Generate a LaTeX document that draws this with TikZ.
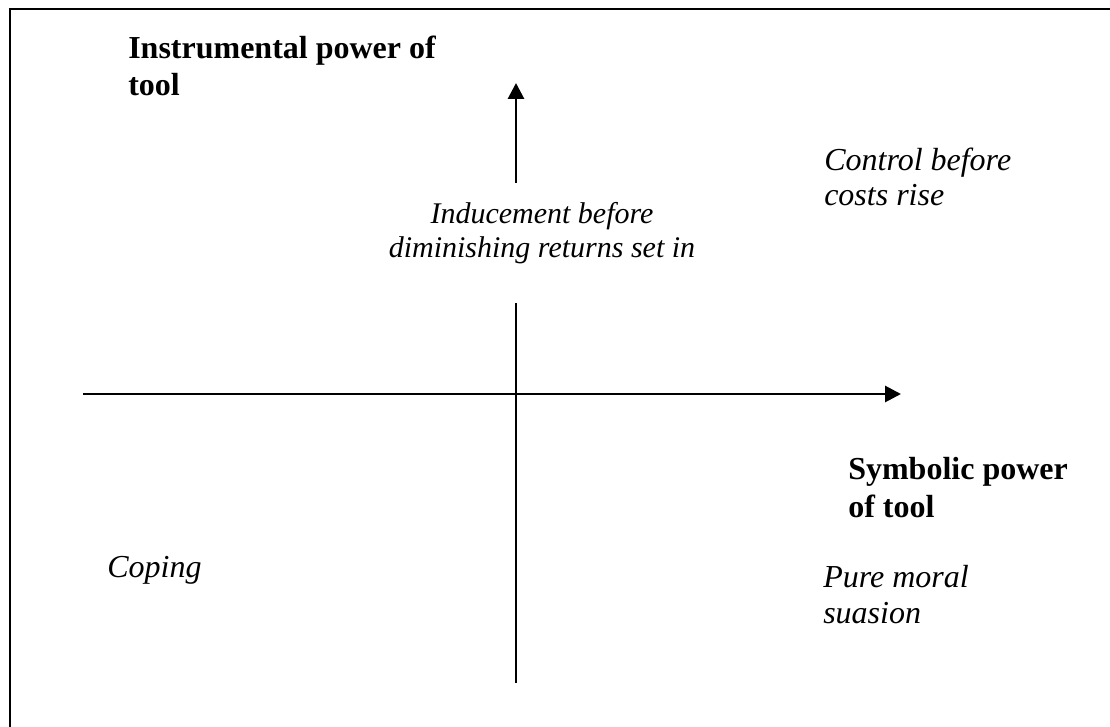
\documentclass[tikz,border=0pt]{standalone}
\usepackage{fontspec}
\setmainfont{Liberation Serif}
\usetikzlibrary{arrows.meta}
\begin{document}
\begin{tikzpicture}[x=0.75pt,y=-0.75pt,
  frame/.style={line width=1.8pt, line join=miter},
  axis/.style={line width=2.2pt},
  tip/.style={-{Triangle[length=12pt,width=12pt]}},
  heading/.style={font=\fontsize{24}{28}\selectfont\bfseries, align=left, anchor=base west, inner sep=0pt},
  note/.style={font=\fontsize{24}{26.5}\selectfont\itshape, align=left, anchor=base west, inner sep=0pt}]
  \useasboundingbox (0,0) rectangle (1110,727);

  % open frame: left and top edges only
  \coordinate (fbl) at (10,730);
  \coordinate (ftl) at (10,9);
  \coordinate (ftr) at (1113,9);
  \draw[frame] (fbl) -- (ftl) -- (ftr);

  % axes
  \coordinate (hstart) at (83,394);
  \coordinate (hend) at (901,394);
  \coordinate (vbot) at (516,683);
  \coordinate (vlow) at (516,303);
  \coordinate (vhigh) at (516,183);
  \coordinate (vtop) at (516,83);
  \draw[axis,tip] (hstart) -- (hend);
  \draw[axis] (vbot) -- (vlow);
  \draw[axis,tip] (vhigh) -- (vtop);

  % axis labels (anchored at the baseline of their last line)
  \node[heading] (ylabel) at (128,96) {Instrumental power of\\tool};
  \node[heading] (xlabel) at (848,517) {Symbolic power\\of tool};

  % quadrant notes
  \node[note, font=\fontsize{22.5}{26}\selectfont\itshape, align=center, anchor=base] (inducement) at (542,258) {Inducement before\\diminishing returns set in};
  \node[note] (control) at (824,206) {Control before\\costs rise};
  \node[note] (coping) at (107,577) {Coping};
  \node[note] (suasion) at (823,623) {Pure moral\\suasion};
\end{tikzpicture}
\end{document}
